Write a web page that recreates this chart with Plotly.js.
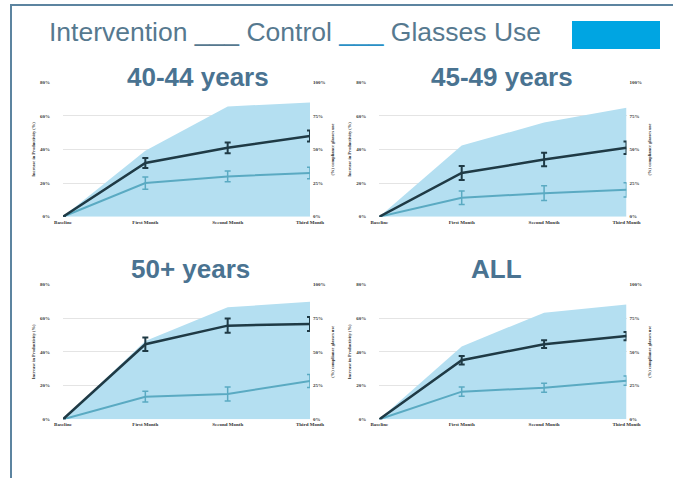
<!DOCTYPE html>
<html>
<head>
<meta charset="utf-8">
<script src="https://cdn.plot.ly/plotly-3.0.1.min.js"></script>
<style>html,body{margin:0;padding:0;background:#fff;}#chart{width:673px;height:478px;}</style>
</head>
<body>
<div id="chart"></div>
<script>
// ---- data ----
const categories = ["Baseline", "First Month", "Second Month", "Third Month"];
const groupTitles = ["40-44 years", "45-49 years", "50+ years", "ALL"];

const int_40 = [0, 32, 41, 48];
const int_40_err = [0, 3.0, 3.2, 3.3];
const ctl_40 = [0, 20, 24, 26];
const ctl_40_err = [0, 3.6, 3.2, 3.4];
const glasses_40 = [0, 49, 82, 85];

const int_45 = [0, 26, 34, 41];
const int_45_err = [0, 4.2, 4.0, 3.7];
const ctl_45 = [0, 11.3, 14, 16];
const ctl_45_err = [0, 4.0, 4.4, 4.2];
const glasses_45 = [0, 53, 70, 81];

const int_50 = [0, 44.5, 55.5, 56.5];
const int_50_err = [0, 4.0, 4.2, 4.1];
const ctl_50 = [0, 13.4, 15, 22.7];
const ctl_50_err = [0, 3.2, 4.1, 3.8];
const glasses_50 = [0, 58, 83, 87];

const int_all = [0, 35, 44.5, 49.3];
const int_all_err = [0, 2.5, 2.3, 2.5];
const ctl_all = [0, 16.4, 18.7, 22.9];
const ctl_all_err = [0, 2.8, 2.7, 2.7];
const glasses_all = [0, 54, 79, 85];

const leftTicks = [0, 20, 40, 60, 80];
const rightTicks = [0, 25, 50, 75, 100];

// ---- styling ----
const W = 673, H = 478;
const INT_COLOR = '#1f3a45';
const CTL_COLOR = '#5aaac2';
const FILL_COLOR = '#b4dff1';
const TITLE_COLOR = '#4a7391';
const tickFont = {family: 'Liberation Serif, DejaVu Serif, serif', size: 5, color: '#333', weight: 'bold'};
const axTitleFont = {family: 'Liberation Serif, DejaVu Serif, serif', size: 4.5, color: '#333', weight: 'bold'};

const groups = [
  {int: int_40, intErr: int_40_err, ctl: ctl_40, ctlErr: ctl_40_err, gl: glasses_40},
  {int: int_45, intErr: int_45_err, ctl: ctl_45, ctlErr: ctl_45_err, gl: glasses_45},
  {int: int_50, intErr: int_50_err, ctl: ctl_50, ctlErr: ctl_50_err, gl: glasses_50},
  {int: int_all, intErr: int_all_err, ctl: ctl_all, ctlErr: ctl_all_err, gl: glasses_all}
];

// pixel geometry of panels [x0, x1, yTop(80%), yBottom(0%)]
const panels = [
  [63, 310, 82.3, 216.7],
  [379.3, 626.5, 82.3, 216.7],
  [63, 310, 284.3, 419.3],
  [379.3, 626.5, 284.3, 419.3]
];
const titleCenters = [[198, 77], [501.5, 77], [190, 269], [496, 269]];

const data = [];
const layout = {
  width: W, height: H,
  margin: {l: 0, r: 0, t: 0, b: 0},
  paper_bgcolor: '#fff', plot_bgcolor: 'rgba(0,0,0,0)',
  showlegend: false,
  hovermode: false,
  annotations: [],
  shapes: []
};

groups.forEach((g, i) => {
  const n = i + 1;
  const xName = n === 1 ? 'x' : 'x' + n;
  const xKey = n === 1 ? 'xaxis' : 'xaxis' + n;
  const rIdx = 2 * i + 1, lIdx = 2 * i + 2;
  const rName = rIdx === 1 ? 'y' : 'y' + rIdx;
  const rKey = rIdx === 1 ? 'yaxis' : 'yaxis' + rIdx;
  const lName = 'y' + lIdx;
  const lKey = 'yaxis' + lIdx;
  const p = panels[i];

  layout[xKey] = {
    domain: [p[0] / W, p[1] / W],
    anchor: rName,
    type: 'category',
    range: [0, 3],
    showgrid: false, zeroline: false, showline: false, ticks: '',
    tickfont: tickFont, ticklabelstandoff: 1,
    fixedrange: true
  };
  layout[rKey] = {
    domain: [1 - p[3] / H, 1 - p[2] / H],
    anchor: xName,
    side: 'right',
    range: [0, 100],
    tickvals: rightTicks,
    ticktext: rightTicks.map(v => v + '%'),
    showgrid: true, gridcolor: '#e4e4e4', gridwidth: 1,
    zeroline: false, showline: false, ticks: '',
    tickfont: tickFont, ticklabelstandoff: 2,
    title: {text: '(%) compliance glasses use', font: axTitleFont, standoff: 6},
    fixedrange: true
  };
  layout[lKey] = {
    overlaying: rName,
    anchor: xName,
    side: 'left',
    range: [0, 80],
    tickvals: leftTicks,
    ticktext: leftTicks.map(v => v + '%'),
    showgrid: false, zeroline: false, showline: false, ticks: '',
    tickfont: tickFont, ticklabelstandoff: 12,
    title: {text: 'Increase in Productivity (%)', font: axTitleFont, standoff: 4},
    fixedrange: true
  };

  data.push({
    type: 'scatter', mode: 'lines', x: categories, y: g.gl,
    xaxis: xName, yaxis: rName,
    fill: 'tozeroy', fillcolor: FILL_COLOR,
    line: {width: 0, color: FILL_COLOR}, name: 'Glasses Use'
  });
  data.push({
    type: 'scatter', mode: 'lines', x: categories, y: g.ctl,
    xaxis: xName, yaxis: lName,
    line: {color: CTL_COLOR, width: 2},
    error_y: {type: 'data', array: g.ctlErr, visible: true, color: CTL_COLOR, thickness: 1.5, width: 3},
    name: 'Control'
  });
  data.push({
    type: 'scatter', mode: 'lines', x: categories, y: g.int,
    xaxis: xName, yaxis: lName,
    line: {color: INT_COLOR, width: 2.5},
    error_y: {type: 'data', array: g.intErr, visible: true, color: INT_COLOR, thickness: 2, width: 3},
    name: 'Intervention'
  });

  const tc = titleCenters[i];
  layout.annotations.push({
    xref: 'paper', yref: 'paper',
    x: tc[0] / W, y: 1 - tc[1] / H,
    xanchor: 'center', yanchor: 'middle',
    text: groupTitles[i], showarrow: false,
    font: {family: 'Liberation Sans, Arial, sans-serif', size: 26, color: TITLE_COLOR, weight: 'bold'},
    bgcolor: '#ffffff', borderpad: 8
  });
});

// header legend text
layout.annotations.push({
  xref: 'paper', yref: 'paper',
  x: 47 / W, y: 1 - 32 / H, xanchor: 'left', yanchor: 'middle',
  showarrow: false,
  text: 'Intervention <span style="color:#56788e">___</span> Control <span style="color:#2a8fc6">___</span> Glasses Use',
  font: {family: 'Liberation Sans, Arial, sans-serif', size: 26.5, color: '#56798f'}
});

// legend swatch and frame
layout.shapes.push({
  type: 'rect', xref: 'paper', yref: 'paper',
  x0: 572 / W, x1: 660 / W, y0: 1 - 49 / H, y1: 1 - 21 / H,
  fillcolor: '#00a5e2', line: {width: 0}
});
layout.shapes.push({
  type: 'path', xref: 'paper', yref: 'paper',
  path: 'M ' + (11 / W) + ',0 L ' + (11 / W) + ',' + (1 - 5 / H) + ' L 1,' + (1 - 5 / H),
  line: {color: '#5c84a0', width: 2}
});

Plotly.newPlot('chart', data, layout, {staticPlot: true, displayModeBar: false});
</script>
</body>
</html>
